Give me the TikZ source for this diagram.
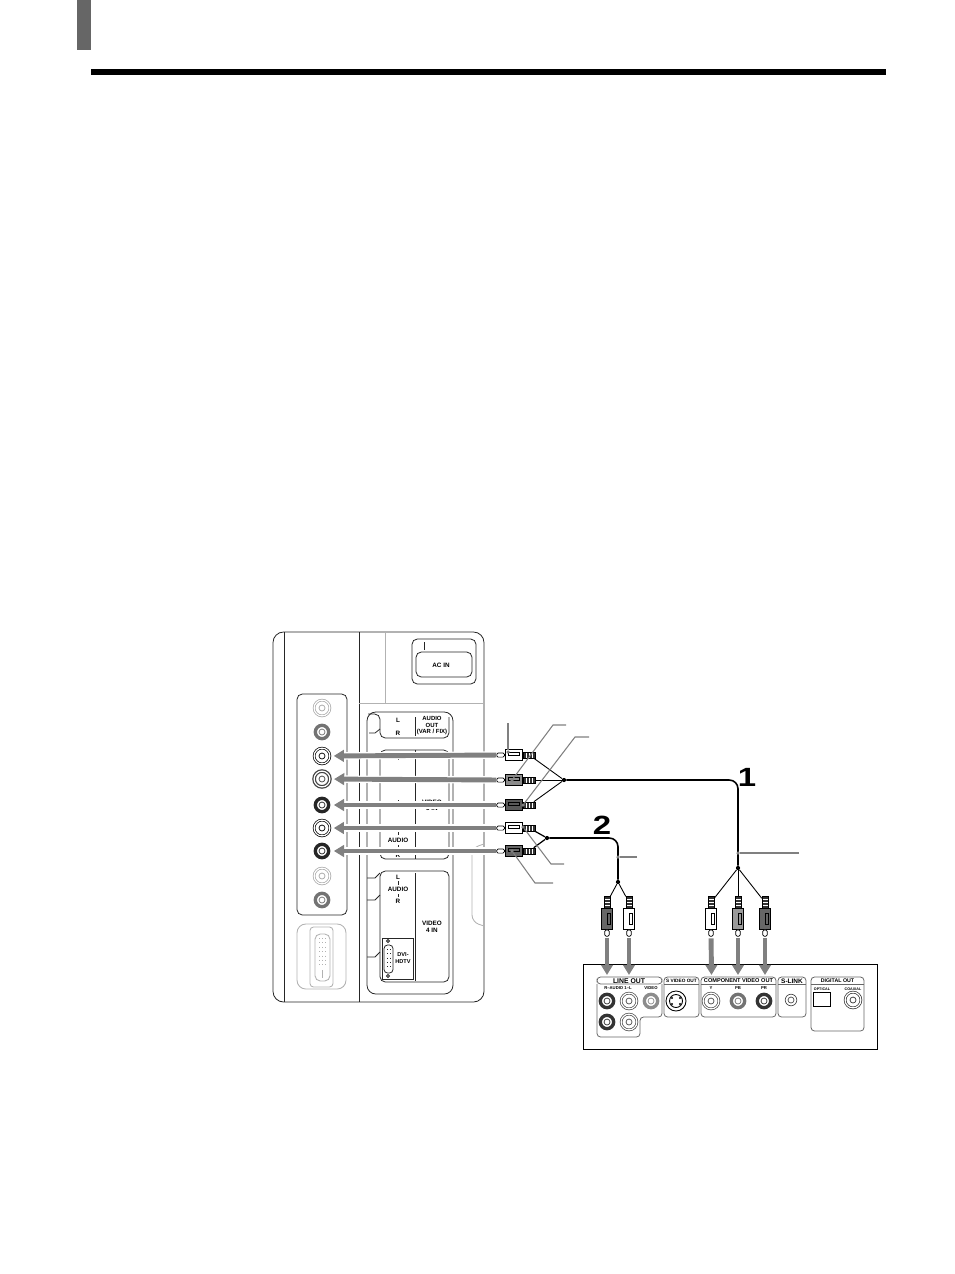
\documentclass[tikz,border=0pt]{standalone}
\usepackage{fontspec}
\setmainfont{Liberation Sans}
\usetikzlibrary{positioning,arrows.meta}
\newcommand{\labelfont}[1]{\fontsize{#1}{3.7}\selectfont\bfseries}
\begin{document}
\begin{tikzpicture}[x=0.02cm,y=0.02cm,
    panel/.style={black!85,line width=.45pt},
    paleline/.style={black!30,line width=.5pt},
    playerbox/.style={black!60,line width=.45pt,rounded corners=2pt},
    ringjack/.style={circle,minimum size=9pt,draw=#1,line width=.4pt,double=white,double distance=.7pt,
        path picture={\draw [#1,line width=.4pt] (path picture bounding box.center) circle (1.7pt);}},
    thickjack/.style={circle,minimum size=7.6pt,draw=#1,line width=1.9pt,fill=white,
        path picture={\draw [#1,line width=.4pt] (path picture bounding box.center) circle (1.7pt);}},
    hbody/.style={draw=black,line width=.5pt,fill=#1,minimum width=10pt,minimum height=6.2pt,
        path picture={\draw [black,line width=.3pt] ([xshift=-3pt]path picture bounding box.center) rectangle ++(6pt,1.6pt);}},
    hneck/.style={draw=black,line width=.3pt,fill=black!80,minimum width=6.6pt,minimum height=3.4pt,
        path picture={\foreach \s in {-1.6,0,1.6} \draw [white,line width=.35pt] ([xshift=\s pt,yshift=-3pt]path picture bounding box.center) -- ++(0,6pt);}},
    htip/.style={draw=black,line width=.4pt,fill=white,rounded corners=.8pt,minimum width=4.4pt,minimum height=2.4pt},
    vbody/.style={draw=black,line width=.5pt,fill=#1,minimum height=11.5pt,minimum width=5.8pt,
        path picture={\draw [black,line width=.3pt] ([yshift=-3pt]path picture bounding box.center) rectangle ++(1.6pt,6pt);}},
    vneck/.style={draw=black,line width=.3pt,fill=black!80,minimum height=6.6pt,minimum width=3.4pt,
        path picture={\foreach \s in {-1.6,0,1.6} \draw [white,line width=.35pt] ([yshift=\s pt,xshift=-3pt]path picture bounding box.center) -- ++(6pt,0);}},
    vtip/.style={draw=black,line width=.4pt,fill=white,rounded corners=.8pt,minimum height=3.6pt,minimum width=2.6pt},
    feed/.style={-{Triangle[length=5.8pt,width=6.6pt]},black!50,line width=2.8pt},
    halo/.style={feed,preaction={draw=white,line width=4.2pt,-}},
    cable/.style={black,line width=.9pt,rounded corners=5pt},
    branch/.style={black,line width=.5pt},
    leader/.style={black!50,line width=.6pt},
    junction/.style={circle,fill=black,minimum size=2.4pt},
    leaddot/.style={circle,fill=black!50,minimum size=2pt}]
    \tikzstyle{every node}+=[inner sep=0pt,align=center]
    \useasboundingbox (0,0) rectangle (954,-1274);
    \fill [black!60] (77,0) rectangle (91,-50);
    \fill [black] (91,-69) rectangle (886,-75);
    % set rear panel
    \draw [panel,rounded corners=6pt] (273,-632) rectangle (484,-1002);
    \draw [panel] (284,-632) -- (284,-1002);
    \draw [panel] (359,-632) -- (359,-1002);
    \draw [paleline] (385,-632) -- (385,-703) -- (359,-703);
    \draw [paleline] (385,-703) -- (484,-703);
    \draw [paleline,rounded corners=4pt] (484,-844) -- (472,-848) -- (472,-922) -- (484,-926);
    \draw [panel,rounded corners=3pt] (412,-639) rectangle (476,-684);
    \draw [panel,rounded corners=3pt] (416,-652) rectangle (472,-677);
    \draw [panel] (424,-642) -- (424,-650);
    \node [font=\labelfont{3.6}] (acin) at (441,-665) {AC IN};
    \draw [panel,rounded corners=3pt] (297,-694) rectangle (347,-915);
    \draw [paleline,rounded corners=5pt] (297,-924) rectangle (346,-989);
    \draw [paleline,rounded corners=2pt] (310,-927) rectangle (333,-987);
    \draw [paleline,rounded corners=3pt] (315,-934) rectangle (330,-981);
    \draw [paleline,dotted] (319,-938) -- (319,-965);
    \draw [paleline,dotted] (322,-938) -- (322,-965);
    \draw [paleline,dotted] (325,-938) -- (325,-965);
    \draw [paleline] (322,-970) -- (322,-978);
    \draw [panel,rounded corners=5pt] (367,-712) rectangle (453,-994);
    \draw [panel,rounded corners=3pt] (368,-714) -- (380,-714) -- (380,-738) -- (449,-738) -- (449,-717);
    \draw [panel] (369,-733) -- (375,-733) -- (380,-729);
    \draw [panel] (415,-717) -- (415,-736);
    \node [font=\labelfont{3.6}] (topl) at (398,-720) {L};
    \node [font=\labelfont{3.6}] (topr) at (398,-733) {R};
    \node [font=\labelfont{3.4}] (audioout) at (432,-726) {AUDIO\\OUT\\(VAR / FIX)};
    \draw [panel,rounded corners=3pt] (380,-750) rectangle (449,-859);
    \draw [panel] (415,-750) -- (415,-859);
    \draw [panel] (398,-757) -- (398,-760);
    \draw [panel] (398,-800) -- (398,-803);
    \draw [panel] (398,-830) -- (398,-835);
    \draw [panel] (398,-845) -- (398,-848);
    \node [font=\labelfont{3.6}] (midvideo) at (432,-805.5) {VIDEO\\5 IN};
    \node [font=\labelfont{3.6}] (midaudio) at (398,-840) {AUDIO};
    \node [font=\labelfont{3.6}] (midr) at (398,-855) {R};
    \draw [panel,rounded corners=3pt] (380,-871) rectangle (449,-982);
    \draw [panel] (415,-873) -- (415,-981);
    \draw [panel] (367,-878) -- (375,-878) -- (380,-873);
    \draw [panel] (367,-900) -- (375,-900) -- (380,-895);
    \draw [panel] (367,-957) -- (375,-957) -- (380,-952);
    \draw [panel] (398,-881) -- (398,-885);
    \draw [panel] (398,-894) -- (398,-897);
    \node [font=\labelfont{3.6}] (lowl) at (398,-877) {L};
    \node [font=\labelfont{3.6}] (lowaudio) at (398,-889) {AUDIO};
    \node [font=\labelfont{3.6}] (lowr) at (398,-901) {R};
    \node [font=\labelfont{3.6}] (lowvideo) at (432,-927) {VIDEO\\4 IN};
    \draw [panel] (382,-938) rectangle (413,-979);
    \draw [panel,rounded corners=2pt] (384,-945) rectangle (393,-973);
    \draw [panel,dotted] (387,-949) -- (387,-967);
    \draw [panel,dotted] (390,-949) -- (390,-967);
    \draw [panel] (388,-941) circle (1.5);
    \draw [panel] (388,-976) circle (1.5);
    \node [font=\labelfont{3.2}] (dvi) at (403,-958) {DVI-\\HDTV};
    % set jacks
    \node [ringjack=black!35] (setjacka) at (322,-708) {};
    \node [thickjack=black!55] (setjackb) at (322,-732) {};
    \node [ringjack=black] (setjackc) at (322,-756) {};
    \node [ringjack=black!75,line width=.7pt] (setjackd) at (322,-779) {};
    \node [thickjack=black!85] (setjacke) at (322,-805) {};
    \node [ringjack=black] (setjackf) at (322,-828) {};
    \node [thickjack=black!85] (setjackg) at (322,-851) {};
    \node [ringjack=black!35] (setjackh) at (322,-876) {};
    \node [thickjack=black!55] (setjacki) at (322,-900) {};
    % plugs on the set side
    \node [hbody=white] (plugc) at (514,-755) {};
    \node [hneck,right=0pt of plugc] (neckc) {};
    \node [htip,left=0pt of plugc] (tipc) {};
    \node [hbody=black!45] (plugd) at (514,-780) {};
    \node [hneck,right=0pt of plugd] (neckd) {};
    \node [htip,left=0pt of plugd] (tipd) {};
    \node [hbody=black!65] (pluge) at (514,-805) {};
    \node [hneck,right=0pt of pluge] (necke) {};
    \node [htip,left=0pt of pluge] (tipe) {};
    \node [hbody=white] (plugf) at (514,-828) {};
    \node [hneck,right=0pt of plugf] (neckf) {};
    \node [htip,left=0pt of plugf] (tipf) {};
    \node [hbody=black!60] (plugg) at (514,-851) {};
    \node [hneck,right=0pt of plugg] (neckg) {};
    \node [htip,left=0pt of plugg] (tipg) {};
    % player
    \draw [black,line width=.45pt] (583,-964) rectangle (877,-1049);
    \draw [playerbox] (597,-984) -- (597,-1037) -- (640,-1037) -- (640,-1017) -- (662,-1017) -- (662,-984);
    \draw [playerbox] (597,-984) -- (597,-977) -- (662,-977) -- (662,-984) -- cycle;
    \draw [playerbox] (664,-977) rectangle (699,-1017);
    \draw [playerbox] (701,-977) rectangle (776,-1017);
    \draw [playerbox] (778,-977) rectangle (806,-1017);
    \draw [playerbox] (811,-977) rectangle (864,-1031);
    \draw [playerbox] (701,-984) -- (776,-984);
    \draw [playerbox] (664,-984) -- (699,-984);
    \draw [playerbox] (778,-984) -- (806,-984);
    \draw [playerbox] (811,-984) -- (864,-984);
    \node [font=\labelfont{3.9}] (lineout) at (629,-981) {LINE OUT};
    \node [font=\labelfont{2.7}] (svideoout) at (681.5,-981) {S VIDEO OUT};
    \node [font=\labelfont{3.2}] (compout) at (738.5,-981) {COMPONENT VIDEO OUT};
    \node [font=\labelfont{3.7}] (slink) at (792,-981) {S-LINK};
    \node [font=\labelfont{3}] (digout) at (837.5,-981) {DIGITAL OUT};
    \node [font=\labelfont{2.4}] (raudio) at (618,-988.5) {R--AUDIO 1--L};
    \node [font=\labelfont{2.4}] (videolabel) at (651,-988.5) {VIDEO};
    \node [font=\labelfont{2.4}] (ylabel) at (711,-988.5) {Y};
    \node [font=\labelfont{2.4}] (pblabel) at (738,-988.5) {PB};
    \node [font=\labelfont{2.4}] (prlabel) at (764,-988.5) {PR};
    \node [font=\labelfont{2.1}] (optlabel) at (822,-989) {OPTICAL};
    \node [font=\labelfont{2.1}] (coaxlabel) at (853,-989) {COAXIAL};
    \node [thickjack=black!80] (outjacka) at (607,-1001) {};
    \node [ringjack=black!70] (outjackb) at (629,-1001) {};
    \node [thickjack=black!45] (outjackc) at (651,-1001) {};
    \node [thickjack=black!80] (outjackd) at (607,-1022) {};
    \node [ringjack=black!70] (outjacke) at (629,-1022) {};
    \node [circle,draw=black,line width=.5pt,minimum size=11.4pt] (svideo) at (676,-1001) {};
    \draw [black,line width=.5pt] (svideo) circle (6.5);
    \fill [black] (672,-998) circle (1.2);
    \fill [black] (680,-998) circle (1.2);
    \fill [black] (672,-1004) circle (1.2);
    \fill [black] (680,-1004) circle (1.2);
    \node [ringjack=black!70] (ypin) at (711,-1001) {};
    \node [thickjack=black!55] (pbpin) at (738,-1001) {};
    \node [thickjack=black!80] (prpin) at (764,-1001) {};
    \node [circle,draw=black!70,line width=.4pt,minimum size=6.6pt] (slinkjack) at (791,-1000) {};
    \draw [black!70,line width=.4pt] (slinkjack) circle (3);
    \node [ringjack=black!80] (coaxjack) at (853,-1000) {};
    \node [draw=black,line width=.6pt,minimum width=10pt,minimum height=8.4pt] (optical) at (822,-999.5) {};
    % plugs on the player side
    \node [vbody=black!60] (plugr) at (607,-919) {};
    \node [vneck,above=0pt of plugr] (neckr) {};
    \node [vtip,below=0pt of plugr] (tipr) {};
    \node [vbody=white] (plugl) at (629,-919) {};
    \node [vneck,above=0pt of plugl] (neckl) {};
    \node [vtip,below=0pt of plugl] (tipl) {};
    \node [vbody=white] (plugy) at (711,-919) {};
    \node [vneck,above=0pt of plugy] (necky) {};
    \node [vtip,below=0pt of plugy] (tipy) {};
    \node [vbody=black!40] (plugb) at (738,-919) {};
    \node [vneck,above=0pt of plugb] (neckb) {};
    \node [vtip,below=0pt of plugb] (tipb) {};
    \node [vbody=black!60] (plugp) at (765,-919) {};
    \node [vneck,above=0pt of plugp] (neckp) {};
    \node [vtip,below=0pt of plugp] (tipp) {};
    % cables
    \node [junction] (joina) at (564,-780) {};
    \node [junction] (joinb) at (738,-868) {};
    \node [junction] (joinc) at (547,-838) {};
    \node [junction] (joind) at (618,-882) {};
    \draw [cable] (joina) -| (joinb);
    \draw [cable] (joinc) -| (joind);
    \draw [branch] (neckc) -- (joina);
    \draw [branch] (neckd) -- (joina);
    \draw [branch] (necke) -- (joina);
    \draw [branch,line width=.7pt] (neckf) -- (joinc);
    \draw [branch,line width=.7pt] (neckg) -- (joinc);
    \draw [branch] (joinb) -- (necky);
    \draw [branch] (joinb) -- (neckb);
    \draw [branch] (joinb) -- (neckp);
    \draw [branch] (joind) -- (neckr);
    \draw [branch] (joind) -- (neckl);
    % connection arrows
    \draw [halo,shorten >=2pt] (tipc) -- (setjackc);
    \draw [halo,shorten >=2pt] (tipd) -- (setjackd);
    \draw [halo,shorten >=2pt] (tipe) -- (setjacke);
    \draw [halo,shorten >=2pt] (tipf) -- (setjackf);
    \draw [halo,shorten >=2pt] (tipg) -- (setjackg);
    \coordinate (headr) at (607,-975);
    \coordinate (headl) at (629,-975);
    \coordinate (heady) at (711.5,-975);
    \coordinate (headb) at (738,-975);
    \coordinate (headp) at (765,-975);
    \draw [feed,shorten <=1pt] (tipr) -- (headr);
    \draw [feed,shorten <=1pt] (tipl) -- (headl);
    \draw [feed,shorten <=1pt] (tipy) -- (heady);
    \draw [feed,shorten <=1pt] (tipb) -- (headb);
    \draw [feed,shorten <=1pt] (tipp) -- (headp);
    % leaders
    \node [leaddot] (dotc) at (508,-752) {};
    \node [leaddot] (dotd) at (512,-780) {};
    \node [leaddot] (dote) at (523,-805) {};
    \node [leaddot] (dotf) at (523,-827) {};
    \node [leaddot] (dotg) at (512,-851) {};
    \node [leaddot] (dotcable) at (618,-857) {};
    \node [leaddot] (dotcomp) at (738,-853) {};
    \coordinate (endc) at (508,-723);
    \coordinate (endd) at (566,-725);
    \coordinate (ende) at (589,-737);
    \coordinate (endf) at (564,-864);
    \coordinate (endg) at (553,-883);
    \coordinate (endcable) at (637,-857);
    \coordinate (endcomp) at (799,-853);
    \draw [leader] (endc) -- (dotc);
    \draw [leader] (endd) -- (553,-725) -- (dotd);
    \draw [leader] (ende) -- (575,-737) -- (dote);
    \draw [leader] (endf) -- (551,-864) -- (dotf);
    \draw [leader] (endg) -- (535,-883) -- (dotg);
    \draw [leader] (endcable) -- (dotcable);
    \draw [leader] (endcomp) -- (dotcomp);
    \node [xscale=1.25] (cableone) at (747,-777) {\fontsize{15}{15}\selectfont\bfseries 1};
    \node [xscale=1.25] (cabletwo) at (602,-825) {\fontsize{15}{15}\selectfont\bfseries 2};
\end{tikzpicture}
\end{document}
